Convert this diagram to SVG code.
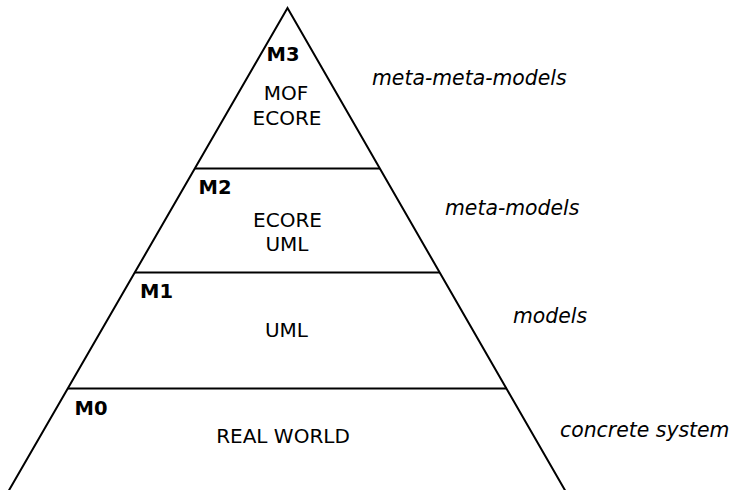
<svg xmlns="http://www.w3.org/2000/svg" width="731" height="490" viewBox="0 0 731 490">
  <style>
    .edge { fill: none; stroke: #000; stroke-width: 2; stroke-linecap: butt; }
    .lvl { font-family: "DejaVu Sans", sans-serif; font-weight: bold; font-size: 19.5px; fill: #000; }
    .txt { font-family: "DejaVu Sans", sans-serif; font-size: 20px; fill: #000; text-anchor: middle; }
    .cap { font-family: "DejaVu Sans", sans-serif; font-style: italic; font-size: 20.4px; fill: #000; }
  </style>
  <rect width="731" height="490" fill="#fff"/>
  <g id="connectors">
    <polyline class="edge" points="8,492 287.5,8 566,492"/>
    <line class="edge" x1="195" y1="168.5" x2="380" y2="168.5"/>
    <line class="edge" x1="135" y1="272.5" x2="440" y2="272.5"/>
    <line class="edge" x1="68" y1="388.5" x2="507" y2="388.5"/>
  </g>
  <g id="M3">
    <text class="lvl" x="266.5" y="60.5">M3</text>
    <text class="txt" x="286" y="100">MOF</text>
    <text class="txt" x="287" y="125">ECORE</text>
    <text class="cap" x="372" y="84.5">meta-meta-models</text>
  </g>
  <g id="M2">
    <text class="lvl" x="198.5" y="194">M2</text>
    <text class="txt" x="287.5" y="227">ECORE</text>
    <text class="txt" x="287" y="251">UML</text>
    <text class="cap" x="445" y="215">meta-models</text>
  </g>
  <g id="M1">
    <text class="lvl" x="140" y="298">M1</text>
    <text class="txt" x="286.5" y="336.5">UML</text>
    <text class="cap" x="513" y="322.5">models</text>
  </g>
  <g id="M0">
    <text class="lvl" x="74.5" y="415">M0</text>
    <text class="txt" x="283" y="443">REAL WORLD</text>
    <text class="cap" x="560" y="436.5">concrete system</text>
  </g>
</svg>
